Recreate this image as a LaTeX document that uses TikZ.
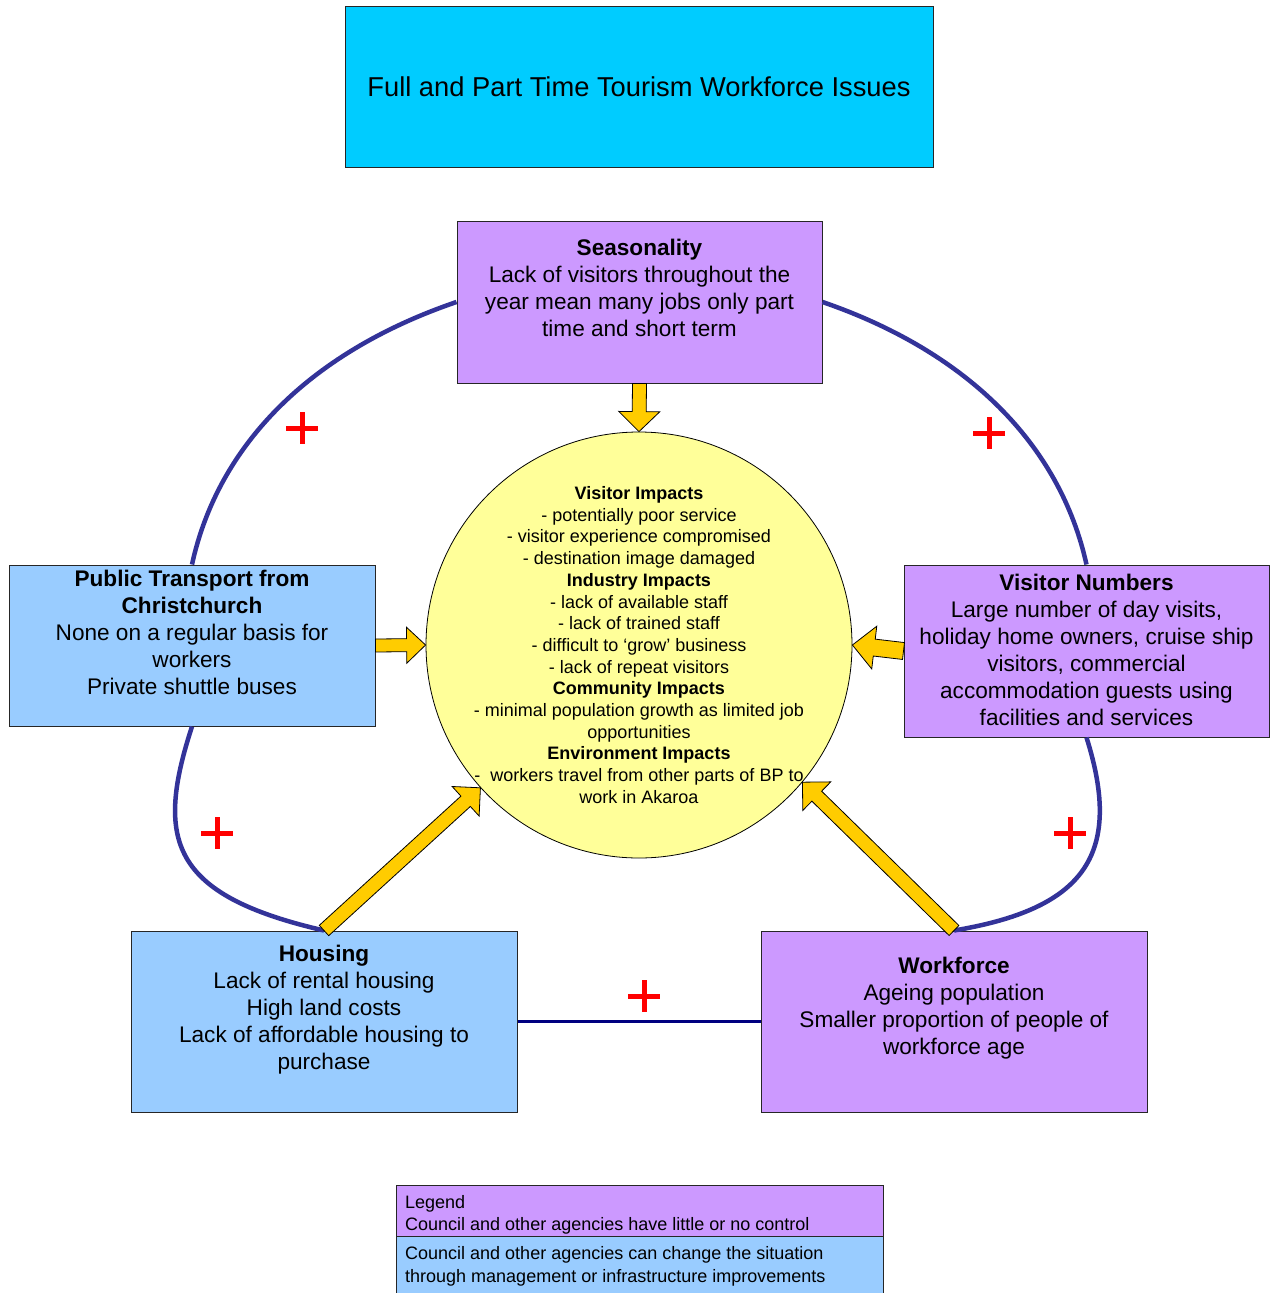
\documentclass[tikz,border=0pt]{standalone}
\usepackage{fontspec}
\setmainfont{Liberation Sans}
\usetikzlibrary{calc}
\definecolor{titlecyan}{HTML}{00CCFF}
\definecolor{nocontrol}{HTML}{CC99FF}
\definecolor{canchange}{HTML}{99CCFF}
\definecolor{impactyellow}{HTML}{FFFF99}
\definecolor{arrowgold}{HTML}{FFCC00}
\definecolor{linkblue}{HTML}{333399}
\definecolor{navyline}{HTML}{000080}
% block arrow: shaft half-width, head half-width, head length, from, to
\newcommand{\blockarr}[5]{%
  \coordinate (ba-c) at ($(#5)!#3!(#4)$);
  \filldraw[goldarrow] ($(#4)!#1!90:(#5)$) -- ($(ba-c)!#1!90:(#5)$) -- ($(ba-c)!#2!90:(#5)$) -- (#5)
     -- ($(ba-c)!#2!-90:(#5)$) -- ($(ba-c)!#1!-90:(#5)$) -- ($(#4)!#1!-90:(#5)$) -- cycle;}
\begin{document}
\begin{tikzpicture}[x=1pt,y=-1pt,
  box/.style={rectangle, draw=black!85, line width=1pt, inner sep=0pt},
  nc/.style={box, fill=nocontrol},
  cc/.style={box, fill=canchange},
  boxtext/.style={align=center, inner sep=0pt, font=\fontsize{22.6}{27}\selectfont},
  circtext/.style={align=center, inner sep=0pt, font=\fontsize{18}{21.7}\selectfont},
  legtext/.style={align=left, anchor=west, inner sep=0pt, font=\fontsize{18}{22.5}\selectfont},
  link/.style={draw=linkblue, line width=4.5pt},
  goldarrow/.style={fill=arrowgold, draw=black, line width=0.8pt, line join=miter},
  plussign/.style={minimum size=32pt, inner sep=0pt, path picture={
     \draw[red, line width=5pt] (path picture bounding box.north) -- (path picture bounding box.south)
       (path picture bounding box.west) -- (path picture bounding box.east);}}
]
\useasboundingbox (0,0) rectangle (1274,1293);
\fill[white] (0,0) rectangle (1274,1293);

% title
\node[box, fill=titlecyan, minimum width=588pt, minimum height=161pt,
      font=\fontsize{27.3}{32}\selectfont] (title) at (639,87) 
      {Full and Part Time Tourism Workforce Issues};

% boxes
\node[nc, minimum width=365pt, minimum height=162pt] (seas) at (639.5,302) {};
\node[cc, minimum width=366pt, minimum height=161pt] (pt) at (192,645.5) {};
\node[nc, minimum width=365pt, minimum height=172pt] (vn) at (1086.5,651) {};
\node[cc, minimum width=386pt, minimum height=181pt] (hous) at (324,1021.5) {};
\node[nc, minimum width=386pt, minimum height=181pt] (work) at (954,1021.5) {};

% central circle
\node[circle, fill=impactyellow, draw=black, line width=0.8pt, minimum size=426pt, inner sep=0pt] (circ) at (639,645) {};

% texts
\node[boxtext] (seastxt) at (639.5,288) {\textbf{Seasonality}\\Lack of visitors throughout the\\year mean many jobs only part\\time and short term};
\node[boxtext] (pttxt) at (192,632) {\textbf{Public Transport from}\\\textbf{Christchurch}\\None on a regular basis for\\workers\\Private shuttle buses};
\node[boxtext] (vntxt) at (1086.5,650) {\textbf{Visitor Numbers}\\Large number of day visits,\\holiday home owners, cruise ship\\visitors, commercial\\accommodation guests using\\facilities and services};
\node[boxtext] (houstxt) at (324,1009.5) {\textbf{Housing}\\Lack of rental housing\\High land costs\\Lack of affordable housing to\\purchase};
\node[boxtext] (worktxt) at (954,1008.5) {\textbf{Workforce}\\Ageing population\\Smaller proportion of people of\\workforce age};
\node[circtext] (circtxt) at (639,645) {\textbf{Visitor Impacts}\\- potentially poor service\\- visitor experience compromised\\- destination image damaged\\\textbf{Industry Impacts}\\- lack of available staff\\- lack of trained staff\\- difficult to ‘grow’ business\\- lack of repeat visitors\\\textbf{Community Impacts}\\- minimal population growth as limited job\\opportunities\\\textbf{Environment Impacts}\\-\ \ workers travel from other parts of BP to\\work in Akaroa};

% curved links
\draw[link] (seas.west) .. controls (310,352) and (218,445) .. (pt.north);
\draw[link] (seas.east) .. controls (968,352) and (1060,445) .. (vn.north);
\draw[link] (pt.south) .. controls (155,840) and (170,895) .. (hous.north);
\draw[link] (vn.south) .. controls (1124,856) and (1083,909) .. (work.north);
\draw[draw=navyline, line width=3.5pt] (hous.east) -- (work.west);

% block arrows
\blockarr{7pt}{20.5pt}{20pt}{seas.south}{circ.north}
\blockarr{6.5pt}{18pt}{19pt}{pt.east}{circ.west}
\blockarr{8.5pt}{21.5pt}{22pt}{vn.west}{circ.east}
\blockarr{7pt}{20pt}{20pt}{hous.north}{circ.222.5}
\blockarr{7pt}{20pt}{20pt}{work.north}{circ.320}

% plus signs
\node[plussign] (plus1) at (302,428) {};
\node[plussign] (plus2) at (989,433) {};
\node[plussign] (plus3) at (217,833) {};
\node[plussign] (plus4) at (1070,833) {};
\node[plussign] (plus5) at (644,996) {};

% legend
\node[nc, minimum width=487pt, minimum height=51pt] (legtop) at (639.5,1210.5) {};
\node[cc, minimum width=487pt, minimum height=62pt] (legbot) at (639.5,1267) {};
\node[legtext] (legtoptxt) at (405,1215) {Legend\\Council and other agencies have little or no control};
\node[legtext] (legbottxt) at (405,1266.5) {Council and other agencies can change the situation\\through management or infrastructure improvements};
\end{tikzpicture}
\end{document}
